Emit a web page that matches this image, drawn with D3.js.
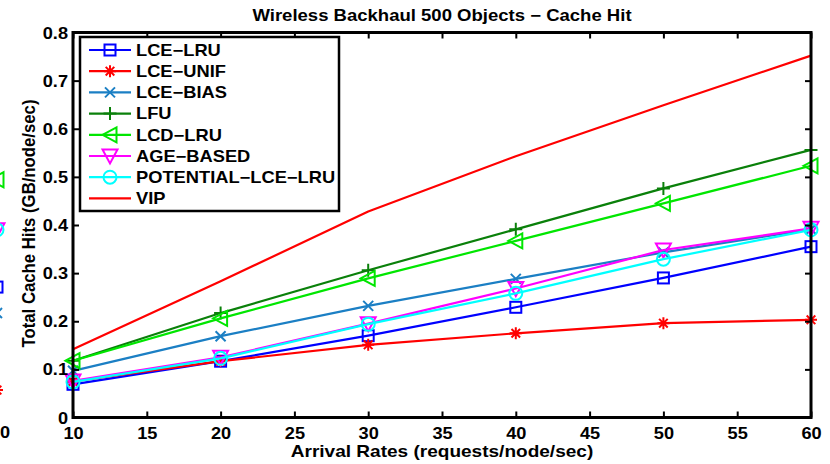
<!DOCTYPE html>
<html>
<head>
<meta charset="utf-8">
<script src="https://cdn.jsdelivr.net/npm/d3@7"></script>
<style>
  html, body { margin: 0; padding: 0; background: #fff; }
  svg text { font-family: "Liberation Sans", Arial, Helvetica, sans-serif; font-weight: bold; fill: #000; }
</style>
</head>
<body>
<svg id="chart" width="830" height="464"></svg>
<script>
// Arrival rates (requests/node/sec)
const arrivalRates = [10, 20, 30, 40, 50, 60];

// Total cache hits (GB/node/sec) per policy
const lceLru    = [0.069, 0.117, 0.170, 0.229, 0.290, 0.355];
const lceUnif   = [0.075, 0.117, 0.151, 0.175, 0.196, 0.203];
const lceBias   = [0.097, 0.169, 0.232, 0.288, 0.343, 0.391];
const lfu       = [0.118, 0.217, 0.306, 0.391, 0.476, 0.556];
const lcdLru    = [0.118, 0.206, 0.289, 0.367, 0.445, 0.523];
const ageBased  = [0.076, 0.125, 0.195, 0.268, 0.348, 0.393];
const potential = [0.074, 0.123, 0.194, 0.258, 0.329, 0.390];
const vip       = [0.142, 0.283, 0.428, 0.543, 0.649, 0.752];

const seriesNames  = ["LCE\u2212LRU", "LCE\u2212UNIF", "LCE\u2212BIAS", "LFU", "LCD\u2212LRU", "AGE\u2212BASED", "POTENTIAL\u2212LCE\u2212LRU", "VIP"];
const seriesValues = [lceLru, lceUnif, lceBias, lfu, lcdLru, ageBased, potential, vip];
const seriesColors = ["#0000ff", "#ff0000", "#1b7fc4", "#0a800a", "#00e600", "#ff00ff", "#00ffff", "#ff0000"];
const seriesMarkers = ["square", "asterisk", "x", "plus", "triangleLeft", "triangleDown", "circle", "none"];

// Last points of the neighbouring panel, clipped at the left edge
const neighbourValues  = [0.494, 0.390, 0.390, 0.271, 0.217, 0.057];
const neighbourColors  = ["#00e600", "#ff00ff", "#00ffff", "#0000ff", "#1b7fc4", "#ff0000"];
const neighbourMarkers = ["triangleLeft", "triangleDown", "circle", "square", "x", "asterisk"];

const xTicks = [10, 15, 20, 25, 30, 35, 40, 45, 50, 55, 60];
const yTicks = [0, 0.1, 0.2, 0.3, 0.4, 0.5, 0.6, 0.7, 0.8];

const titleText  = "Wireless Backhaul 500 Objects \u2212 Cache Hit";
const xLabelText = "Arrival Rates (requests/node/sec)";
const yLabelText = "Total Cache Hits (GB/node/sec)";

// Glyphs are drawn slightly wide, like the exported figure
const stretch = 1.137;

const svg = d3.select("#chart");
const m = { left: 73, right: 811, top: 32.5, bottom: 417.5 };

const x = d3.scaleLinear().domain([10, 60]).range([m.left, m.right]);
const y = d3.scaleLinear().domain([0, 0.8]).range([m.bottom, m.top]);

function label(parent, tx, ty, text, size, anchor) {
  return parent.append("text")
    .attr("transform", `translate(${tx},${ty}) scale(${stretch},1)`)
    .attr("text-anchor", anchor || "start")
    .style("font-size", size + "px")
    .text(text);
}

function drawMarker(g, type, cx, cy, color) {
  const s = 5.5;
  let el;
  switch (type) {
    case "square":
      el = g.append("rect").attr("x", cx - s).attr("y", cy - s).attr("width", 2 * s).attr("height", 2 * s);
      break;
    case "circle":
      el = g.append("circle").attr("cx", cx).attr("cy", cy).attr("r", 6.5);
      break;
    case "x":
      el = g.append("path").attr("d", `M${cx-5},${cy-5}L${cx+5},${cy+5}M${cx-5},${cy+5}L${cx+5},${cy-5}`);
      break;
    case "plus":
      el = g.append("path").attr("d", `M${cx-6.5},${cy}L${cx+6.5},${cy}M${cx},${cy-6.5}L${cx},${cy+6.5}`);
      break;
    case "asterisk":
      el = g.append("path").attr("d",
        `M${cx-6},${cy}L${cx+6},${cy}M${cx},${cy-6}L${cx},${cy+6}` +
        `M${cx-4.3},${cy-4.3}L${cx+4.3},${cy+4.3}M${cx-4.3},${cy+4.3}L${cx+4.3},${cy-4.3}`);
      break;
    case "triangleLeft":
      el = g.append("path").attr("d", `M${cx-7.5},${cy}L${cx+6.5},${cy-7.5}L${cx+6.5},${cy+7.5}Z`);
      break;
    case "triangleDown":
      el = g.append("path").attr("d", `M${cx-7.5},${cy-6.5}L${cx+7.5},${cy-6.5}L${cx},${cy+7.5}Z`);
      break;
    default:
      return;
  }
  el.attr("stroke", color).attr("stroke-width", 2).attr("fill", "none");
}

// Neighbouring panel sliver (its x = 60 sits just past the left edge)
const xNeighbour = d3.scaleLinear().domain([10, 60]).range([-740, -3]);
const sliver = svg.append("g");
neighbourValues.forEach((v, i) => drawMarker(sliver, neighbourMarkers[i], xNeighbour(60), y(v), neighbourColors[i]));
label(sliver, 0, 438, "0", 16, "start");

// Series lines and markers
const line = d3.line().x((d, i) => x(arrivalRates[i])).y(d => y(d));
const plot = svg.append("g");
seriesValues.forEach((vals, si) => {
  plot.append("path").datum(vals).attr("d", line)
    .attr("fill", "none").attr("stroke", seriesColors[si]).attr("stroke-width", 2.2)
    .attr("stroke-linejoin", "round");
  vals.forEach((v, i) => drawMarker(plot, seriesMarkers[i] === undefined ? "none" : seriesMarkers[si], x(arrivalRates[i]), y(v), seriesColors[si]));
});

// Axes box with inward ticks on all sides
const axisG = svg.append("g");
const tickLen = 6;
const xb = axisG.append("g").attr("transform", `translate(0,${m.bottom})`)
  .call(d3.axisBottom(x).tickValues(xTicks).tickSize(-tickLen).tickFormat(""));
const xt = axisG.append("g").attr("transform", `translate(0,${m.top})`)
  .call(d3.axisTop(x).tickValues(xTicks).tickSize(-tickLen).tickFormat(""));
const yl = axisG.append("g").attr("transform", `translate(${m.left},0)`)
  .call(d3.axisLeft(y).tickValues(yTicks).tickSize(-tickLen).tickFormat(""));
const yr = axisG.append("g").attr("transform", `translate(${m.right},0)`)
  .call(d3.axisRight(y).tickValues(yTicks).tickSize(-tickLen).tickFormat(""));
[xb, xt, yl, yr].forEach(g => {
  g.select(".domain").remove();
  g.selectAll(".tick line").attr("stroke", "#000").attr("stroke-width", 2);
});
// Tick labels placed at the scale positions
xb.selectAll(".tick").each(function(d) {
  label(d3.select(this), 0, 21, d3.format("d")(d), 16, "middle");
});
yl.selectAll(".tick").each(function(d) {
  label(d3.select(this), -5, 5.5, d === 0 ? "0" : d3.format(".1f")(d), 16, "end");
});
axisG.append("rect").attr("x", m.left).attr("y", m.top)
  .attr("width", m.right - m.left).attr("height", m.bottom - m.top)
  .attr("fill", "none").attr("stroke", "#000").attr("stroke-width", 3);

// Titles
label(svg, (m.left + m.right) / 2, 20.5, titleText, 16.3, "middle");
label(svg, (m.left + m.right) / 2, 456.5, xLabelText, 16.75, "middle");
svg.append("text")
  .attr("transform", `translate(34.5,${(m.top + m.bottom) / 2 - 1.5}) scale(${stretch},1) rotate(-90)`)
  .attr("text-anchor", "middle").style("font-size", "16.75px").text(yLabelText);

// Legend
const lg = svg.append("g");
lg.append("rect").attr("x", 80).attr("y", 37).attr("width", 259).attr("height", 174)
  .attr("fill", "#fff").attr("stroke", "#000").attr("stroke-width", 2.5);
seriesNames.forEach((name, i) => {
  const ly = 50 + i * 21.2;
  lg.append("line").attr("x1", 89).attr("x2", 131).attr("y1", ly).attr("y2", ly)
    .attr("stroke", seriesColors[i]).attr("stroke-width", 2.2);
  drawMarker(lg, seriesMarkers[i], 110, ly, seriesColors[i]);
  label(lg, 136, ly + 5.8, name, 16.1, "start");
});
</script>
</body>
</html>
